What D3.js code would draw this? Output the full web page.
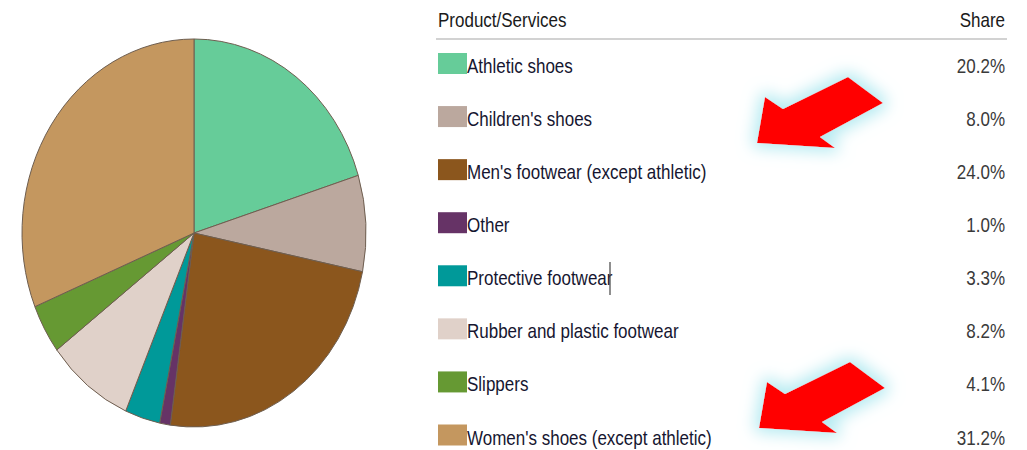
<!DOCTYPE html>
<html>
<head>
<meta charset="utf-8">
<script src="https://cdn.jsdelivr.net/npm/d3@7"></script>
<style>
  body { margin: 0; background: #fff; }
  svg { display: block; font-family: "Liberation Sans", Arial, sans-serif; }
</style>
</head>
<body>
<div id="chart"></div>
<script>
// Footwear product share

// Data
var categories = ["Athletic shoes", "Children's shoes", "Men's footwear (except athletic)", "Other",
  "Protective footwear", "Rubber and plastic footwear", "Slippers", "Women's shoes (except athletic)"];
var shares = [20.2, 8.0, 24.0, 1.0, 3.3, 8.2, 4.1, 31.2];
var colors = ["#66cc99", "#bba89e", "#8b561d", "#663366", "#009999", "#e0d1c9", "#669933", "#c4975f"];
var highlighted = ["Children's shoes", "Women's shoes (except athletic)"];

// Chart Details
var svgWidth = 1027;
var svgHeight = 450;

var svg = d3.select("#chart").append("svg")
  .attr("width", svgWidth)
  .attr("height", svgHeight);

var defs = svg.append("defs");
var glow = defs.append("filter")
  .attr("id", "glow")
  .attr("x", "-50%").attr("y", "-50%")
  .attr("width", "200%").attr("height", "200%");
glow.append("feMorphology").attr("in", "SourceAlpha").attr("operator", "dilate").attr("radius", 4).attr("result", "d");
glow.append("feGaussianBlur").attr("in", "d").attr("stdDeviation", 8).attr("result", "b");
glow.append("feFlood").attr("flood-color", "#b4eaf1");
glow.append("feComposite").attr("in2", "b").attr("operator", "in").attr("result", "g");
var merge = glow.append("feMerge");
merge.append("feMergeNode").attr("in", "g");
merge.append("feMergeNode").attr("in", "SourceGraphic");

// Pie (picture is stretched vertically)
var radius = 172;
var pieGroup = svg.append("g")
  .attr("transform", "translate(194, 233) scale(1, " + (194 / 172) + ")");

var pie = d3.pie().sort(null).value(d => d);
var arc = d3.arc().innerRadius(0).outerRadius(radius);

pieGroup.selectAll("path")
  .data(pie(shares))
  .enter()
  .append("path")
  .attr("d", arc)
  .attr("fill", (d, i) => colors[i])
  .attr("stroke", "#6e5e50")
  .attr("stroke-width", 1)
  .attr("vector-effect", "non-scaling-stroke");

// Legend table
var left = 438;
var right = 1005;
var rowY = d3.scaleLinear().domain([0, 7]).range([63.5, 435]);
var textScale = 1.22;

function tallText(g, x, y, txt, anchor, fill) {
  return g.append("text")
    .attr("transform", "translate(" + x + "," + y + ") scale(1," + textScale + ")")
    .attr("text-anchor", anchor)
    .attr("font-size", "17px")
    .attr("fill", fill)
    .text(txt);
}

var legend = svg.append("g");

tallText(legend, left, 27, "Product/Services", "start", "#1a1a1a");
tallText(legend, right, 27, "Share", "end", "#1a1a1a");

legend.append("line")
  .attr("x1", 436).attr("x2", 1007)
  .attr("y1", 39).attr("y2", 39)
  .attr("stroke", "#d2d2d2")
  .attr("stroke-width", 2);

var rows = legend.selectAll(".row")
  .data(categories)
  .enter()
  .append("g")
  .classed("row", true);

rows.append("rect")
  .attr("x", left)
  .attr("y", (d, i) => rowY(i) - 10.5)
  .attr("width", 29)
  .attr("height", 21)
  .attr("fill", (d, i) => colors[i]);

rows.each(function(d, i) {
  var g = d3.select(this);
  tallText(g, left + 29, rowY(i) + 9.5, d, "start", "#161630");
  tallText(g, right, rowY(i) + 9.5, shares[i].toFixed(1) + "%", "end", "#3a3a3a");
});

// Text cursor mark after "Protective footwear"
legend.append("line")
  .attr("x1", 610).attr("x2", 610)
  .attr("y1", 262).attr("y2", 295)
  .attr("stroke", "#444")
  .attr("stroke-width", 1.2);

// Red arrows pointing at the highlighted rows
var arrowShape = [[0, 0], [78, 5], [63, -6], [126, -40], [91, -66], [26, -34], [8, -46]];
var arrowTips = [[757, 143], [759, 428]];

svg.selectAll(".arrow")
  .data(highlighted)
  .enter()
  .append("polygon")
  .classed("arrow", true)
  .attr("points", arrowShape.map(p => p.join(",")).join(" "))
  .attr("transform", (d, i) => "translate(" + arrowTips[i][0] + "," + arrowTips[i][1] + ")")
  .attr("fill", "#ff0000")
  .attr("filter", "url(#glow)");
</script>
</body>
</html>
